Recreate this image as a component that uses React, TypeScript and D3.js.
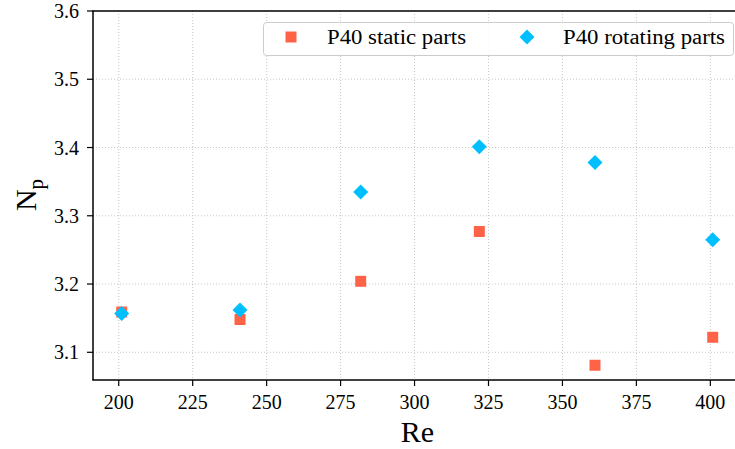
import React from "react";
import * as d3 from "d3";

const reValues = [201, 241, 281.8, 321.9, 361, 400.8];
const staticParts = [3.159, 3.148, 3.204, 3.277, 3.081, 3.122];
const rotatingParts = [3.157, 3.162, 3.335, 3.401, 3.378, 3.265];
const xTicks = [200, 225, 250, 275, 300, 325, 350, 375, 400];
const yTicks = [3.1, 3.2, 3.3, 3.4, 3.5, 3.6];
const seriesNames = ["P40 static parts", "P40 rotating parts"];

const W = 735, H = 449;
const left = 93, right = 742, top = 11, bottom = 380;
const font = "Liberation Serif";
const red = "#FF6347";
const blue = "#00BFFF";

export default function App() {
  const x = d3.scaleLinear().domain([191.3, 410.7]).range([left, right]);
  const y = d3.scaleLinear().domain([3.0594, 3.6]).range([bottom, top]);
  const sq = d3.symbol().type(d3.symbolSquare).size(11 * 11)();
  const dia = (cx: number, cy: number, r = 7.5) =>
    `M${cx},${cy - r}L${cx + r},${cy}L${cx},${cy + r}L${cx - r},${cy}Z`;
  const ts = { fontFamily: font };

  return (
    <svg width={W} height={H} style={{ position: "absolute", left: 0, top: 0, background: "#fff" }}>
      <rect width={W} height={H} fill="#fff" />
      {xTicks.map((t) => (
        <line key={"gx" + t} x1={x(t)} x2={x(t)} y1={top} y2={bottom} stroke="#bbb" strokeWidth={0.8} strokeDasharray="1,2" />
      ))}
      {yTicks.map((t) => (
        <line key={"gy" + t} x1={left} x2={W} y1={y(t)} y2={y(t)} stroke="#bbb" strokeWidth={0.8} strokeDasharray="1,2" />
      ))}
      {reValues.map((v, i) => (
        <path key={"s" + i} d={sq!} transform={`translate(${x(v)},${y(staticParts[i])})`} fill={red} />
      ))}
      {reValues.map((v, i) => (
        <path key={"r" + i} d={dia(x(v), y(rotatingParts[i]))} fill={blue} />
      ))}
      <line x1={left} x2={left} y1={top} y2={bottom} stroke="#000" strokeWidth={1.5} />
      <line x1={left - 0.75} x2={W} y1={bottom} y2={bottom} stroke="#000" strokeWidth={1.5} />
      <line x1={left - 0.75} x2={W} y1={top} y2={top} stroke="#000" strokeWidth={1.5} />
      {xTicks.map((t) => (
        <g key={"tx" + t}>
          <line x1={x(t)} x2={x(t)} y1={bottom} y2={bottom + 6} stroke="#000" strokeWidth={1.2} />
          <text x={x(t)} y={409} textAnchor="middle" style={ts} fontSize={20}>{t}</text>
        </g>
      ))}
      {yTicks.map((t) => (
        <g key={"ty" + t}>
          <line x1={left - 6} x2={left} y1={y(t)} y2={y(t)} stroke="#000" strokeWidth={1.2} />
          <text x={79} y={y(t) + 7} textAnchor="end" style={ts} fontSize={20}>{t.toFixed(1)}</text>
        </g>
      ))}
      <text x={417.5} y={441.5} textAnchor="middle" style={ts} fontSize={30}>Re</text>
      <text transform="translate(36,195) rotate(-90)" textAnchor="middle" style={ts} fontSize={30}>
        N<tspan fontSize={21} dy={7}>p</tspan>
      </text>
      <rect x={263.5} y={22.5} width={470} height={33} rx={3} fill="#fff" fillOpacity={0.85} stroke="#ccc" strokeWidth={1} />
      <path d={sq!} transform="translate(291,37)" fill={red} />
      <text x={327} y={44} style={ts} fontSize={20} textLength={139} lengthAdjust="spacingAndGlyphs">{seriesNames[0]}</text>
      <path d={dia(527, 37)} fill={blue} />
      <text x={563} y={44} style={ts} fontSize={20} textLength={162} lengthAdjust="spacingAndGlyphs">{seriesNames[1]}</text>
    </svg>
  );
}
